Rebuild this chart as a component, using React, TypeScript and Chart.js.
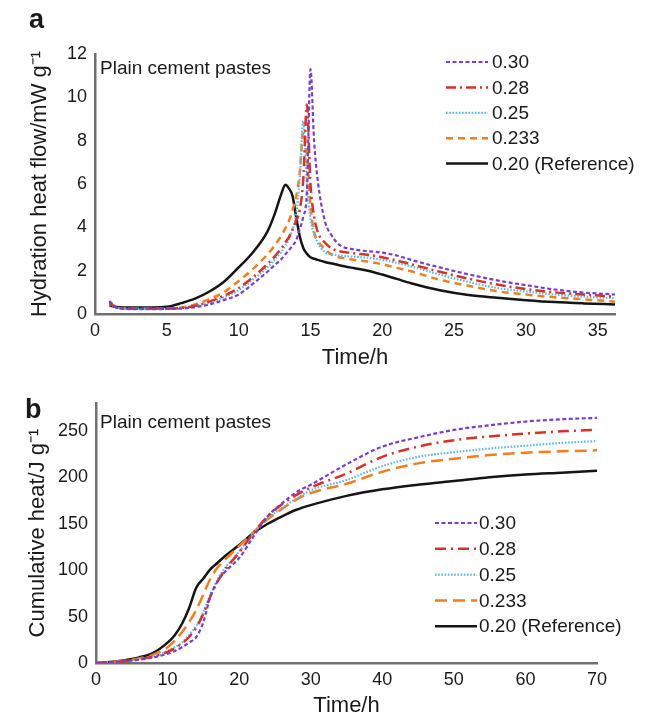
import React, { useEffect, useRef } from "react";
import { Chart, registerables } from "chart.js";
Chart.register(...registerables);

const FONT = "'Liberation Sans', Arial, Helvetica, sans-serif";
Chart.defaults.font.family = FONT;

const SERIES_LABELS = ["0.30", "0.28", "0.25", "0.233", "0.20 (Reference)"];

// Panel a: hydration heat flow (mW/g) vs time (h)
const FLOW_TIME = [1, 1.5, 2, 3, 4, 5, 6, 7, 8, 9, 10, 11, 12, 12.5, 13, 13.25, 13.5, 13.75, 14, 14.25, 14.5, 14.75, 15, 15.25, 15.5, 16, 16.5, 17, 18, 19, 20, 21, 22, 24, 26, 28, 30, 32, 34, 36.2];
const FLOW_030 = [0.6, 0.3, 0.24, 0.22, 0.22, 0.23, 0.25, 0.32, 0.45, 0.65, 0.9, 1.4, 1.95, 2.25, 2.55, 2.75, 2.95, 3.15, 3.4, 3.9, 4.5, 5.6, 11.3, 8.0, 6.2, 4.3, 3.6, 3.2, 2.98, 2.9, 2.83, 2.7, 2.5, 2.15, 1.83, 1.55, 1.33, 1.13, 0.99, 0.9];
const FLOW_028 = [0.5, 0.3, 0.25, 0.24, 0.24, 0.25, 0.28, 0.38, 0.58, 0.85, 1.2, 1.7, 2.3, 2.65, 3.05, 3.3, 3.55, 3.9, 4.3, 4.8, 6.2, 9.67, 6.0, 4.5, 3.8, 3.3, 3.02, 2.9, 2.8, 2.73, 2.62, 2.47, 2.3, 1.95, 1.63, 1.36, 1.15, 1.0, 0.9, 0.8];
const FLOW_025 = [0.45, 0.3, 0.25, 0.24, 0.24, 0.25, 0.28, 0.38, 0.55, 0.78, 1.1, 1.6, 2.15, 2.5, 2.9, 3.15, 3.45, 3.9, 4.6, 6.2, 8.9, 6.0, 4.4, 3.7, 3.3, 2.85, 2.75, 2.7, 2.64, 2.6, 2.5, 2.36, 2.2, 1.82, 1.48, 1.2, 1.04, 0.9, 0.8, 0.73];
const FLOW_0233 = [0.55, 0.3, 0.25, 0.24, 0.24, 0.25, 0.3, 0.45, 0.7, 1.02, 1.52, 2.08, 2.75, 3.15, 3.65, 3.95, 4.3, 4.8, 5.4, 6.5, 8.4, 7.4, 5.0, 3.8, 3.4, 3.0, 2.73, 2.62, 2.5, 2.42, 2.3, 2.13, 1.97, 1.58, 1.3, 1.05, 0.9, 0.77, 0.68, 0.57];
const FLOW_020 = [0.4, 0.32, 0.3, 0.3, 0.3, 0.33, 0.5, 0.72, 1.05, 1.5, 2.15, 2.85, 3.8, 4.6, 5.6, 5.97, 5.8, 5.45, 4.5, 3.6, 3.05, 2.78, 2.62, 2.55, 2.5, 2.4, 2.33, 2.25, 2.12, 2.0, 1.82, 1.62, 1.42, 1.1, 0.88, 0.75, 0.64, 0.55, 0.49, 0.44];

// Panel b: cumulative heat (J/g) vs time (h)
const CUM_TIME = [0, 2, 4, 6, 8, 10, 11, 12, 13, 14, 15, 16, 17, 18, 20, 22, 24, 26, 28, 30, 35, 40, 45, 50, 55, 60, 65, 70];
const CUM_030 = [0, 0.8, 2, 3.5, 6, 10, 13, 17, 22, 28, 44, 72, 88, 98, 113, 136, 158, 172, 184, 192, 214, 233, 243, 251, 256, 260, 262.5, 264];
const CUM_028 = [0, 0.8, 2, 4, 7, 12, 16, 21, 28, 38, 53, 72, 88, 100, 119, 140, 158, 171, 181, 189, 204, 222, 233, 240, 244, 247, 249.5, 251];
const CUM_025 = [0, 0.8, 2, 4, 7.5, 13, 17, 22, 30, 40, 55, 74, 90, 102, 120, 140, 156, 167, 177, 186, 197, 212, 222, 227, 231, 234, 237, 239];
const CUM_0233 = [0, 1, 2.5, 5, 9, 17, 24, 33, 44, 57, 74, 91, 103, 111, 126, 141, 155, 166, 176, 183, 193, 206, 215, 220, 224, 226.5, 228, 229];
const CUM_020 = [0, 1, 3, 6, 11, 22, 30, 42, 59, 81, 91, 101, 108, 115, 127, 140, 150, 158, 165, 170, 180, 187, 192, 196, 200, 203, 205, 207];

const COLORS = ["#7a3fc6", "#d8312a", "#5cb9e8", "#f07f22", "#151515"];
const WIDTHS = [2.2, 2.5, 2.2, 2.5, 2.5];
const DASH_A = [[4, 2.5], [10, 4, 2, 4], [1.6, 1.6], [7, 5], []];
const DASH_B = [[4, 2.5], [11, 5, 2, 5], [1.6, 1.6], [12, 6], []];

const AXIS_COLOR = "#707070";
const TEXT_COLOR = "#1a1a1a";

const panelText = {
  id: "panelText",
  afterDraw(chart: any, _args: any, o: any) {
    const ctx = chart.ctx;
    ctx.save();
    ctx.fillStyle = TEXT_COLOR;
    ctx.font = `bold 27px ${FONT}`;
    ctx.textBaseline = "alphabetic";
    ctx.textAlign = "left";
    ctx.fillText(o.letter, o.letterX, o.letterY);
    ctx.font = `19px ${FONT}`;
    ctx.textBaseline = "middle";
    ctx.fillText(o.note, o.noteX, o.noteY);
    chart.data.datasets.forEach((ds: any, i: number) => {
      const y = o.legY + i * o.legStep;
      ctx.beginPath();
      ctx.setLineDash(ds.borderDash || []);
      ctx.lineWidth = ds.borderWidth;
      ctx.strokeStyle = ds.borderColor;
      ctx.moveTo(o.legX0, y);
      ctx.lineTo(o.legX1, y);
      ctx.stroke();
      ctx.setLineDash([]);
      ctx.fillStyle = TEXT_COLOR;
      ctx.fillText(ds.label, o.textX, y + 1);
    });
    ctx.restore();
  },
};

function makeDatasets(time: number[], series: number[][], dashes: number[][]) {
  return series.map((vals, i) => ({
    label: SERIES_LABELS[i],
    data: time.map((t, j) => ({ x: t, y: vals[j] })),
    borderColor: COLORS[i],
    borderWidth: WIDTHS[i],
    borderDash: dashes[i],
    pointRadius: 0,
    fill: false,
    cubicInterpolationMode: "monotone" as const,
  }));
}

function axisCommon() {
  return {
    grid: { display: false, drawTicks: false },
    border: { display: true, color: AXIS_COLOR, width: 2.5 },
  };
}

export default function App() {
  const refA = useRef<HTMLCanvasElement>(null);
  const refB = useRef<HTMLCanvasElement>(null);

  useEffect(() => {
    const tickFont = { size: 18, family: FONT };
    const titleFont = { size: 22, family: FONT, lineHeight: 1 };

    const chartA = new Chart(refA.current!, {
      type: "line",
      data: {
        datasets: makeDatasets(FLOW_TIME, [FLOW_030, FLOW_028, FLOW_025, FLOW_0233, FLOW_020], DASH_A),
      },
      options: {
        responsive: false,
        animation: false,
        devicePixelRatio: 1,
        layout: { padding: { left: 0, top: 54, right: 31, bottom: 0 } },
        plugins: {
          legend: { display: false },
          tooltip: { enabled: false },
          panelText: {
            letter: "a", letterX: 29, letterY: 28,
            note: "Plain cement pastes", noteX: 100, noteY: 69,
            legY: 62, legStep: 25.4, legX0: 446, legX1: 488, textX: 492,
          },
        } as any,
        scales: {
          x: {
            type: "linear", min: 0, max: 36.2,
            ...axisCommon(),
            ticks: { stepSize: 5, includeBounds: false, font: tickFont, color: TEXT_COLOR, padding: 6, maxRotation: 0 },
            title: { display: true, text: "Time/h", font: titleFont, color: TEXT_COLOR, padding: { top: 0, bottom: 1 } },
            afterFit: (s: any) => { s.height = 56; },
          },
          y: {
            type: "linear", min: 0, max: 12,
            ...axisCommon(),
            ticks: { stepSize: 2, includeBounds: false, font: tickFont, color: TEXT_COLOR, padding: 8 },
            title: { display: true, text: "Hydration heat flow/mW g\u207B\u00B9", font: titleFont, color: TEXT_COLOR, padding: { top: 29, bottom: 0 } },
            afterFit: (s: any) => { s.width = 95; },
          },
        },
      },
      plugins: [panelText],
    } as any);

    const chartB = new Chart(refB.current!, {
      type: "line",
      data: {
        datasets: makeDatasets(CUM_TIME, [CUM_030, CUM_028, CUM_025, CUM_0233, CUM_020], DASH_B),
      },
      options: {
        responsive: false,
        animation: false,
        devicePixelRatio: 1,
        layout: { padding: { left: 0, top: 33, right: 49, bottom: 0 } },
        plugins: {
          legend: { display: false },
          tooltip: { enabled: false },
          panelText: {
            letter: "b", letterX: 25, letterY: 48,
            note: "Plain cement pastes", noteX: 100, noteY: 53,
            legY: 153, legStep: 25.8, legX0: 435, legX1: 477, textX: 479,
          },
        } as any,
        scales: {
          x: {
            type: "linear", min: 0, max: 70,
            ...axisCommon(),
            ticks: { stepSize: 10, includeBounds: false, font: tickFont, color: TEXT_COLOR, padding: 6, maxRotation: 0 },
            title: { display: true, text: "Time/h", font: titleFont, color: TEXT_COLOR, padding: { top: 0, bottom: 1 } },
            afterFit: (s: any) => { s.height = 55; },
          },
          y: {
            type: "linear", min: 0, max: 280,
            ...axisCommon(),
            ticks: { stepSize: 50, includeBounds: false, font: tickFont, color: TEXT_COLOR, padding: 8 },
            title: { display: true, text: "Cumulative heat/J g\u207B\u00B9", font: titleFont, color: TEXT_COLOR, padding: { top: 27, bottom: 0 } },
            afterFit: (s: any) => { s.width = 96; },
          },
        },
      },
      plugins: [panelText],
    } as any);

    return () => {
      chartA.destroy();
      chartB.destroy();
    };
  }, []);

  return (
    <div style={{ position: "absolute", left: 0, top: 0, width: 646, height: 718, background: "#fff" }}>
      <canvas ref={refA} width={646} height={370} style={{ position: "absolute", left: 0, top: 0, display: "block" }} />
      <canvas ref={refB} width={646} height={348} style={{ position: "absolute", left: 0, top: 370, display: "block" }} />
    </div>
  );
}
